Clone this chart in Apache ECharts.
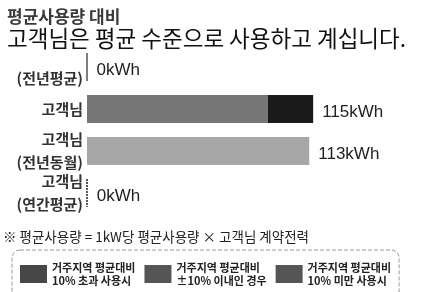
<!DOCTYPE html>
<html>
<head>
<meta charset="utf-8">
<script src="https://cdn.jsdelivr.net/npm/echarts@6/dist/echarts.min.js"></script>
<style>
  html, body { margin: 0; padding: 0; background: #fff; }
  #chart_usage { width: 423px; height: 292px; }
</style>
</head>
<body>
<div id="chart_usage"></div>
<script>
const categories = ['\n(전년평균)', '고객님', '고객님\n(전년동월)', '고객님\n(연간평균)'];
const usage = [0, 115, 113, 0];
const overPart = [0, 23, 0, 0];
const barColors = ['#767676', '#767676', '#a7a7a7', '#767676'];
const legendNames = ['거주지역 평균대비\n10% 초과 사용시', '거주지역 평균대비\n±10% 이내인 경우', '거주지역 평균대비\n10% 미만 사용시'];
const legendColors = ['#474747', '#555555', '#555555'];
const unit = 'kWh';

const korFont = '"Noto Sans CJK KR", sans-serif';
const numFont = '"Liberation Sans", "Noto Sans CJK KR", sans-serif';

function getOptionUsage() {
    const base = usage.map((v, i) => v - overPart[i]);

    const series = [
        {
            name: 'base',
            type: 'bar',
            stack: 'use',
            barWidth: 28,
            silent: true,
            data: base.map((v, i) => ({ value: v, itemStyle: { color: barColors[i] } }))
        },
        {
            name: 'over',
            type: 'bar',
            stack: 'use',
            silent: true,
            itemStyle: { color: '#1a1a1a' },
            data: overPart
        },
        {
            // zero outline + value labels
            name: 'total',
            type: 'bar',
            barGap: '-100%',
            barWidth: 28,
            silent: true,
            z: 1,
            data: usage.map((v, i) => ({
                value: v,
                itemStyle: v === 0 ? {
                    color: 'transparent',
                    borderColor: i === 0 ? '#555' : '#222',
                    borderWidth: i === 0 ? 1 : 1.5,
                    borderType: i === 0 ? 'solid' : [2, 1]
                } : { color: 'transparent' }
            })),
            label: {
                show: true,
                position: 'right',
                distance: 9,
                offset: [0, 3],
                formatter: p => p.value + unit,
                fontFamily: numFont,
                fontSize: 17,
                color: '#222'
            }
        }
    ];

    legendNames.forEach((name, i) => {
        series.push({
            name: name,
            type: 'line',
            data: [],
            itemStyle: { color: legendColors[i] },
            lineStyle: { color: legendColors[i] }
        });
    });

    return {
        backgroundColor: '#fff',
        animation: false,
        title: {
            text: '평균사용량 대비',
            subtext: '고객님은 평균 수준으로 사용하고 계십니다.',
            left: 3,
            top: 8,
            itemGap: 2,
            padding: [0, 4],
            textStyle: { fontFamily: korFont, fontSize: 17, fontWeight: 'bold', color: '#3a3a3a' },
            subtextStyle: { fontFamily: korFont, fontSize: 22.5, fontWeight: 'normal', color: '#111' }
        },
        grid: {
            left: 87,
            right: 41,
            top: 46,
            height: 168
        },
        xAxis: {
            type: 'value',
            min: 0,
            max: 150,
            show: false
        },
        yAxis: {
            type: 'category',
            inverse: true,
            data: categories,
            axisLine: { show: false },
            axisTick: { show: false },
            axisLabel: {
                interval: 0,
                margin: 4,
                fontFamily: korFont,
                fontSize: 15,
                fontWeight: 'bold',
                lineHeight: 23,
                color: '#333',
                padding: [12, 0, 0, 0]
            }
        },
        legend: {
            data: legendNames,
            left: 12,
            top: 250,
            width: 390,
            icon: 'rect',
            itemWidth: 27,
            itemHeight: 18,
            itemGap: 9,
            selectedMode: false,
            padding: [11, 8, 20, 8],
            borderColor: '#999',
            borderWidth: 1,
            borderType: 'dashed',
            borderRadius: 8,
            textStyle: {
                fontFamily: korFont,
                fontSize: 11,
                fontWeight: 'bold',
                lineHeight: 13,
                color: '#222'
            }
        },
        graphic: [
            {
                type: 'text',
                left: 3,
                top: 230,
                style: {
                    text: '※ 평균사용량 = 1kW당 평균사용량 × 고객님 계약전력',
                    font: '13.5px ' + korFont,
                    fill: '#222'
                }
            }
        ],
        series: series
    };
}

const chart = echarts.init(document.getElementById('chart_usage'), null, { renderer: 'canvas' });
chart.setOption(getOptionUsage());
</script>
</body>
</html>
